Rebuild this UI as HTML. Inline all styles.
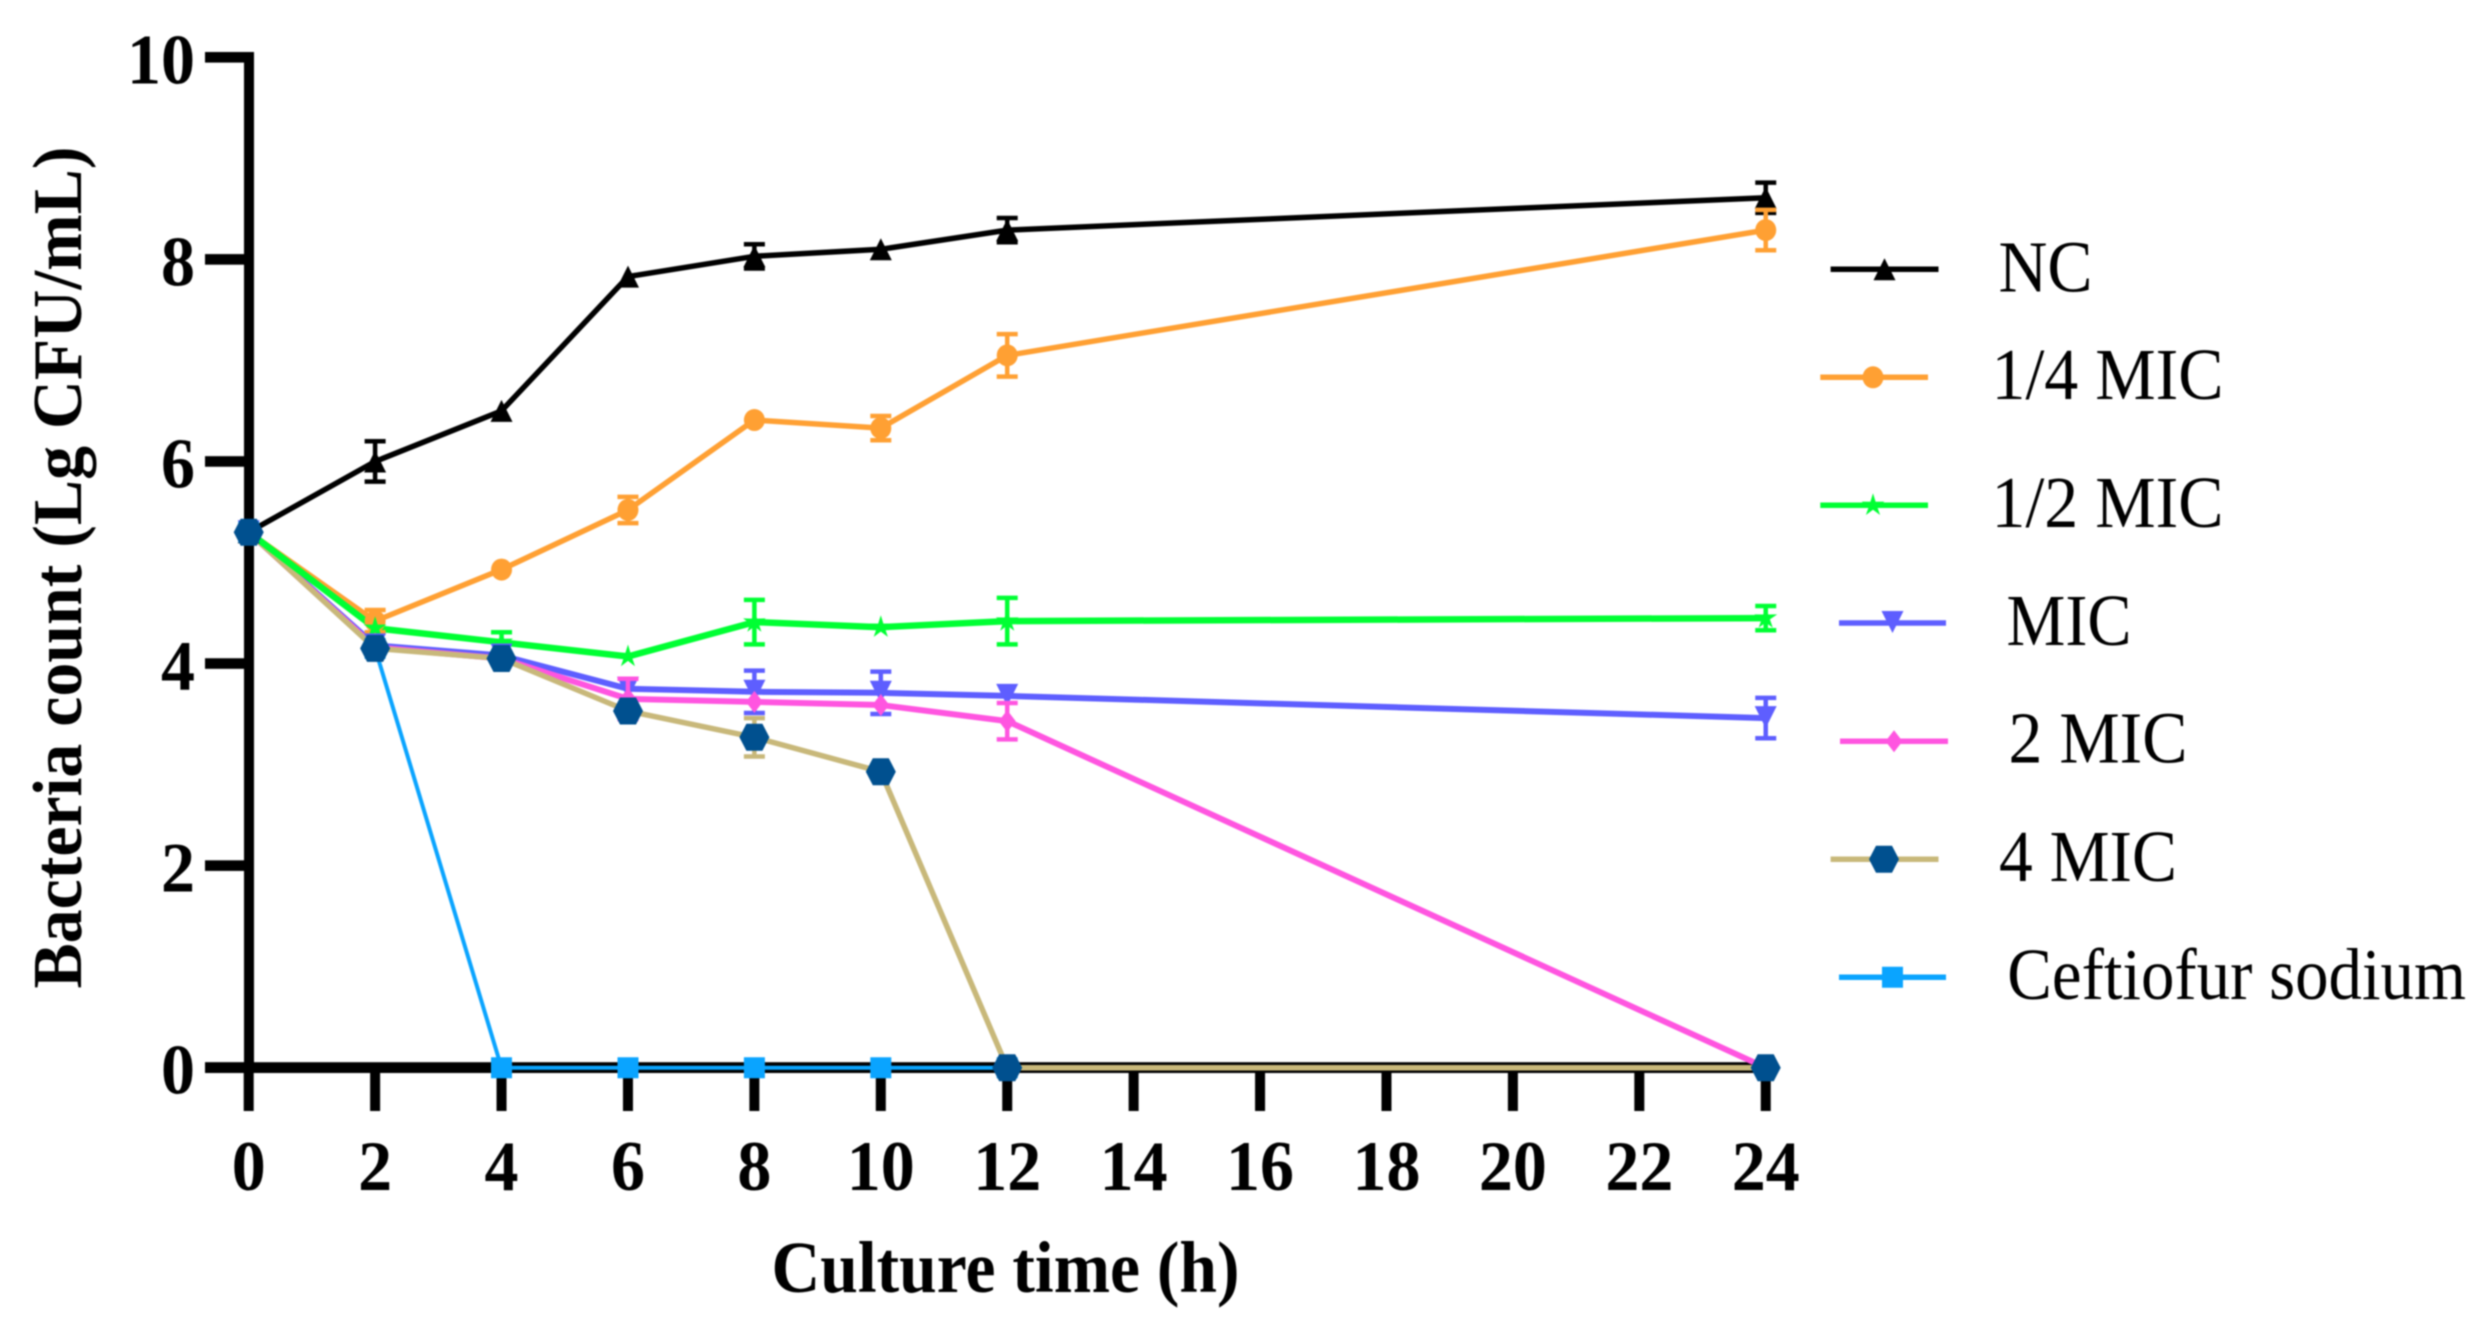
<!DOCTYPE html>
<html lang="en">
<head>
<meta charset="utf-8">
<title>Bacteria count over culture time</title>
<style>
  html, body { margin: 0; padding: 0; background: #fff; }
  #chart { display: block; filter: blur(0.8px); }
  text { font-family: "Liberation Serif", serif; fill: #000; }
</style>
</head>
<body>
<svg id="chart" xmlns="http://www.w3.org/2000/svg" width="2485" height="1326" viewBox="0 0 2485 1326">
  <rect x="0" y="0" width="2485" height="1326" fill="#fff"/>
  <g id="axes"></g>
  <g id="lines"></g>
  <g id="marks"></g>
  <g id="legend"></g>
  <text transform="translate(81,567.5) rotate(-90)" text-anchor="middle" font-size="70" font-weight="700" textLength="842" lengthAdjust="spacingAndGlyphs">Bacteria count (Lg CFU/mL)</text>
  <text x="1005.5" y="1292" text-anchor="middle" font-size="73" font-weight="700" textLength="468" lengthAdjust="spacingAndGlyphs">Culture time (h)</text>
</svg>
<script>
// ----- chart data -----
const times = [0, 2, 4, 6, 8, 10, 12, 24];
const xTickLabels = [0, 2, 4, 6, 8, 10, 12, 14, 16, 18, 20, 22, 24];
const yTickLabels = [0, 2, 4, 6, 8, 10];
const seriesNames = ['NC', '1/4 MIC', '1/2 MIC', 'MIC', '2 MIC', '4 MIC', 'Ceftiofur sodium'];

const ncValues    = [5.30, 6.00, 6.50, 7.83, 8.03, 8.10, 8.29, 8.61];
const quarterValues = [5.30, 4.42, 4.93, 5.52, 6.41, 6.33, 7.05, 8.29];
const halfValues  = [5.30, 4.35, 4.21, 4.07, 4.41, 4.36, 4.42, 4.45];
const micValues   = [5.30, 4.18, 4.08, 3.75, 3.72, 3.71, 3.68, 3.46];
const twoMicValues = [5.30, 4.16, 4.05, 3.65, 3.62, 3.59, 3.43, 0];
const fourMicValues = [5.30, 4.15, 4.05, 3.53, 3.27, 2.93, 0, 0];
const ceftiofurValues = [5.30, 4.15, 0, 0, 0, 0, 0, null];

const ncErrors    = [0, 0.20, 0, 0, 0.12, 0, 0.12, 0.15];
const quarterErrors = [0, 0.11, 0, 0.13, 0, 0.12, 0.21, 0.20];
const halfErrors  = [0, 0, 0.10, 0, 0.22, 0, 0.23, 0.12];
const micErrors   = [0, 0, 0, 0, 0.21, 0.21, 0, 0.20];
const twoMicErrors = [0, 0, 0, 0.20, 0, 0, 0.18, 0];
const fourMicErrors = [0, 0, 0, 0, 0.19, 0, 0, 0];
const ceftiofurErrors = [0, 0, 0, 0, 0, 0, 0, 0];

// ----- scales and styling -----
const SVGNS = 'http://www.w3.org/2000/svg';
const xScale = t => 248.7 + 63.21 * t;
const yScale = v => 1067.7 - 101.04 * v;

const styles = {
  nc:   { color: '#000000', lineWidth: 5.5, shape: 'triangleUp' },
  q:    { color: '#FFA033', lineWidth: 5.5, shape: 'circle' },
  h:    { color: '#00FF33', lineWidth: 6.5, shape: 'star' },
  m:    { color: '#5E5EFF', lineWidth: 6,   shape: 'triangleDown' },
  t:    { color: '#FF55E0', lineWidth: 6,   shape: 'diamond' },
  f:    { color: '#C8B87A', lineWidth: 5.5, shape: 'hexagon', markerColor: '#00508F' },
  c:    { color: '#0AA4FF', lineWidth: 4,   shape: 'square' }
};

const allSeries = [
  { key: 'nc', name: seriesNames[0], slug: 'nc', values: ncValues, errors: ncErrors },
  { key: 'q',  name: seriesNames[1], slug: 'quarter-mic', values: quarterValues, errors: quarterErrors },
  { key: 'h',  name: seriesNames[2], slug: 'half-mic', values: halfValues, errors: halfErrors },
  { key: 'm',  name: seriesNames[3], slug: 'mic', values: micValues, errors: micErrors },
  { key: 't',  name: seriesNames[4], slug: 'two-mic', values: twoMicValues, errors: twoMicErrors },
  { key: 'c',  name: seriesNames[6], slug: 'ceftiofur', values: ceftiofurValues, errors: ceftiofurErrors },
  { key: 'f',  name: seriesNames[5], slug: 'four-mic', values: fourMicValues, errors: fourMicErrors }
];
const lineOrder = ['nc', 'q', 'm', 't', 'c', 'f', 'h'];

function el(tag, attrs, parent) {
  const node = document.createElementNS(SVGNS, tag);
  for (const k in attrs) node.setAttribute(k, attrs[k]);
  parent.appendChild(node);
  return node;
}

function markerPoints(shape, cx, cy) {
  let pts = [];
  if (shape === 'triangleUp') pts = [[0, -11], [11, 11], [-11, 11]];
  if (shape === 'triangleDown') pts = [[-11, -12], [11, -12], [0, 10]];
  if (shape === 'diamond') pts = [[0, -11], [8.5, 0], [0, 11], [-8.5, 0]];
  if (shape === 'hexagon') pts = [[-15, 0], [-8, -13.5], [8, -13.5], [15, 0], [8, 13.5], [-8, 13.5]];
  if (shape === 'square') pts = [[-10.5, -10.5], [10.5, -10.5], [10.5, 10.5], [-10.5, 10.5]];
  if (shape === 'star') {
    for (let i = 0; i < 10; i++) {
      const r = i % 2 === 0 ? 12 : 4.4;
      const a = -Math.PI / 2 + i * Math.PI / 5;
      pts.push([r * Math.cos(a), r * Math.sin(a)]);
    }
  }
  return pts.map(p => (cx + p[0]).toFixed(1) + ',' + (cy + p[1]).toFixed(1)).join(' ');
}

function drawMarker(parent, style, cx, cy) {
  const fill = style.markerColor || style.color;
  if (style.shape === 'circle') {
    return el('ellipse', { cx: cx, cy: cy, rx: 10.5, ry: 11, fill: fill }, parent);
  }
  return el('polygon', { points: markerPoints(style.shape, cx, cy), fill: fill }, parent);
}

// ----- axes -----
const axes = document.getElementById('axes');

const yAxisLine = el('rect', { x: 244, y: 52, width: 10, height: 1065 - 52 + 6, fill: '#000' }, axes);



const xAxisLine = el('rect', { x: 205, y: 1062.2, width: xScale(24) + 5 - 205, height: 10.8, fill: '#000' }, axes);



yTickLabels.forEach(v => {
  const tick = el('rect', { x: 205, y: yScale(v) - 5.3, width: 44, height: 10.6, fill: '#000' }, axes);
  
  
  const label = el('text', {
    x: 195, y: yScale(v) + 26, 'text-anchor': 'end', 'font-size': 71, 'font-weight': 700,
    textLength: String(v).length * 34, lengthAdjust: 'spacingAndGlyphs'
  }, axes);
  label.textContent = v;
  
  
});

xTickLabels.forEach(t => {
  const tick = el('rect', { x: xScale(t) - 5, y: 1067, width: 10, height: 44, fill: '#000' }, axes);
  
  
  const label = el('text', {
    x: xScale(t), y: 1190, 'text-anchor': 'middle', 'font-size': 71, 'font-weight': 700,
    textLength: String(t).length * 34, lengthAdjust: 'spacingAndGlyphs'
  }, axes);
  label.textContent = t;
  
  
});

// ----- series lines -----
const linesGroup = document.getElementById('lines');
lineOrder.forEach(key => {
  const s = allSeries.find(d => d.key === key);
  const st = styles[key];
  const pts = [];
  s.values.forEach((v, i) => {
    if (v !== null) pts.push(xScale(times[i]).toFixed(1) + ',' + yScale(v).toFixed(1));
  });
  const line = el('polyline', {
    points: pts.join(' '), fill: 'none', stroke: st.color,
    'stroke-width': st.lineWidth, 'stroke-linejoin': 'round'
  }, linesGroup);
  
  
});

// ----- error bars and markers -----
const marksGroup = document.getElementById('marks');
allSeries.forEach(s => {
  const st = styles[s.key];
  const g = el('g', {}, marksGroup);
  
  
  s.values.forEach((v, i) => {
    if (v === null) return;
    const cx = xScale(times[i]);
    const err = s.errors[i];
    if (err > 0) {
      const top = yScale(v + err);
      const bottom = yScale(v - err);
      const bar = el('path', {
        d: 'M' + cx + ' ' + top + 'V' + bottom +
           'M' + (cx - 10.5) + ' ' + top + 'H' + (cx + 10.5) +
           'M' + (cx - 10.5) + ' ' + bottom + 'H' + (cx + 10.5),
        fill: 'none', stroke: st.color, 'stroke-width': 4.5
      }, g);
      
      
    }
    const m = drawMarker(g, st, cx, yScale(v));
    
    
  });
});

// ----- legend -----
const legendLayout = [
  { key: 'nc', lx: 1830.6, rx: 1938.5, ly: 269.3, mx: 1884.5, tx: 1998.5, tb: 291.7, tw: 94 },
  { key: 'q',  lx: 1820.3, rx: 1928,   ly: 377.3, mx: 1873,   tx: 1991.5, tb: 399,   tw: 232 },
  { key: 'h',  lx: 1820.3, rx: 1928,   ly: 505.3, mx: 1873,   tx: 1991.5, tb: 527,   tw: 232 },
  { key: 'm',  lx: 1839,   rx: 1946,   ly: 623,   mx: 1892.5, tx: 2006.5, tb: 645,   tw: 125 },
  { key: 't',  lx: 1840,   rx: 1948,   ly: 741.3, mx: 1894,   tx: 2008.5, tb: 762.7, tw: 179 },
  { key: 'f',  lx: 1830.6, rx: 1938.5, ly: 859.3, mx: 1884,   tx: 1999,   tb: 881,   tw: 178 },
  { key: 'c',  lx: 1839,   rx: 1946,   ly: 977.3, mx: 1892.5, tx: 2007.3, tb: 999,   tw: 458.7 }
];
const legendGroup = document.getElementById('legend');
legendLayout.forEach(p => {
  const s = allSeries.find(d => d.key === p.key);
  const st = styles[p.key];
  const g = el('g', {}, legendGroup);
  
  
  const sw = el('line', { x1: p.lx, x2: p.rx, y1: p.ly, y2: p.ly, stroke: st.color, 'stroke-width': 5.5 }, g);
  
  
  const mk = drawMarker(g, st, p.mx, p.ly);
  
  
  const label = el('text', {
    x: p.tx, y: p.tb, 'font-size': 73, textLength: p.tw, lengthAdjust: 'spacingAndGlyphs'
  }, g);
  label.textContent = s.name;
  
  
});
</script>
</body>
</html>
